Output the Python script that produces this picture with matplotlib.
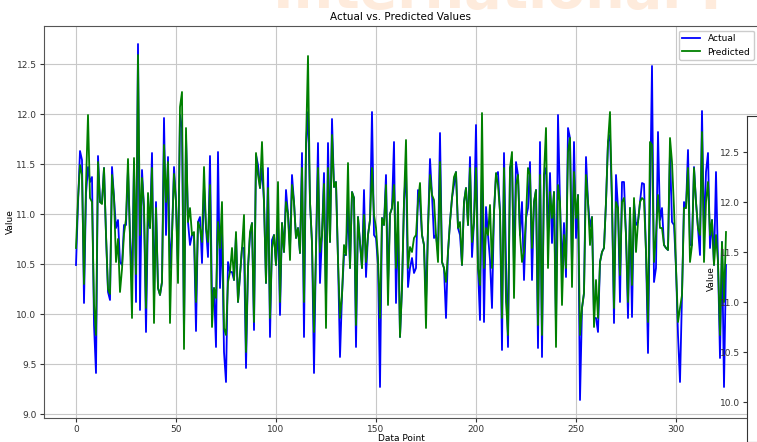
import numpy as np
import matplotlib.pyplot as plt

actual = [
    10.49, 11.10, 11.63, 11.54, 10.11, 11.20, 11.47, 11.32, 11.37, 9.89,
    9.41, 11.58, 11.12, 11.11, 11.46, 10.79, 10.22, 10.14, 11.47, 11.16,
    10.86, 10.94, 10.52, 10.49, 10.89, 10.89, 11.45, 10.79, 10.30, 11.52,
    10.12, 12.70, 10.04, 11.44, 11.06, 9.82, 10.99, 10.86, 11.61, 10.12,
    11.12, 10.26, 10.19, 10.32, 11.96, 10.79, 11.57, 10.46, 10.79, 11.47,
    11.12, 10.46, 11.99, 11.86, 9.79, 11.79, 10.92, 10.69, 10.79, 10.79,
    9.83, 10.92, 10.97, 10.51, 11.29, 10.86, 10.57, 11.58, 10.12, 10.26,
    9.67, 11.62, 10.26, 10.86, 9.62, 9.32, 10.52, 10.42, 10.42, 10.34,
    10.79, 10.12, 10.39, 10.66, 10.66, 9.46, 10.46, 10.79, 10.91, 9.84,
    11.59, 11.49, 11.26, 11.46, 11.12, 10.31, 11.46, 9.77, 10.74, 10.79,
    10.49, 10.92, 9.99, 10.91, 10.62, 11.24, 11.00, 10.66, 11.39, 11.12,
    10.76, 10.86, 10.61, 11.61, 9.77, 11.69, 12.02, 11.12, 10.71, 9.41,
    10.66, 11.71, 10.31, 10.79, 11.41, 10.12, 11.71, 10.72, 11.95, 11.27,
    11.32, 10.54, 9.57, 10.19, 10.59, 10.59, 11.06, 10.46, 11.22, 11.16,
    9.67, 10.97, 10.72, 10.46, 11.24, 10.37, 10.79, 10.94, 12.02, 10.79,
    10.76, 10.49, 9.27, 10.96, 10.89, 11.39, 10.29, 11.00, 11.06, 11.72,
    10.11, 10.92, 9.77, 10.26, 11.12, 11.46, 10.27, 10.46, 10.56, 10.41,
    10.46, 11.24, 11.12, 10.79, 10.69, 10.12, 10.86, 11.55, 11.19, 10.76,
    10.79, 10.62, 11.81, 10.52, 10.46, 9.96, 10.62, 10.92, 11.16, 11.29,
    11.42, 10.86, 10.79, 10.49, 11.12, 11.26, 10.89, 11.57, 10.57, 10.92,
    11.89, 10.46, 9.94, 11.46, 9.92, 11.07, 10.79, 10.54, 10.06, 11.02,
    11.39, 11.42, 11.02, 9.64, 11.61, 10.52, 9.67, 11.46, 11.52, 10.46,
    11.52, 11.39, 10.79, 11.12, 10.34, 10.96, 11.06, 11.52, 10.34, 11.12,
    11.24, 9.66, 11.72, 9.57, 11.39, 11.46, 10.79, 11.41, 10.71, 11.22,
    9.86, 11.99, 11.12, 10.46, 10.91, 10.37, 11.86, 11.76, 10.46, 11.72,
    10.76, 11.19, 9.14, 10.06, 10.21, 11.57, 11.12, 10.87, 10.97, 9.96,
    9.96, 9.82, 10.52, 10.62, 10.66, 11.12, 11.72, 11.79, 11.12, 9.91,
    11.39, 11.06, 10.12, 11.32, 11.32, 10.79, 9.96, 11.06, 9.97, 11.12,
    10.89, 10.92, 11.12, 11.31, 11.30, 10.62, 9.61, 11.12, 12.48, 10.32,
    10.46, 11.82, 10.94, 11.06, 10.69, 10.66, 10.64, 11.62, 10.92, 10.89,
    10.46, 9.79, 9.32, 10.19, 11.12, 11.06, 11.64, 10.69, 10.69, 11.47,
    11.12, 10.86, 10.59, 12.03, 10.79, 11.42, 11.61, 10.66, 10.94, 10.49,
    11.42, 10.52, 9.56, 10.72, 9.27, 10.49,
]

predicted = [
    10.66, 11.15, 11.49, 11.39, 10.30, 11.30, 11.99, 11.16, 11.12, 10.10,
    9.79, 11.52, 11.12, 11.10, 11.46, 10.80, 10.25, 10.20, 11.39, 11.16,
    10.52, 10.75, 10.22, 10.45, 10.80, 10.95, 11.55, 10.75, 9.96, 11.56,
    10.40, 12.59, 10.79, 11.36, 11.06, 10.06, 11.21, 10.86, 11.46, 9.91,
    11.06, 10.26, 10.19, 10.32, 11.69, 11.12, 11.52, 9.91, 10.79, 11.40,
    11.12, 10.31, 12.07, 12.22, 9.65, 11.86, 10.92, 11.06, 10.79, 10.82,
    10.12, 10.92, 10.86, 10.72, 11.47, 10.86, 10.72, 11.29, 9.87, 10.26,
    10.16, 10.92, 10.66, 11.12, 9.86, 9.79, 10.32, 10.42, 10.66, 10.34,
    10.82, 10.12, 10.39, 10.66, 10.99, 9.62, 10.46, 10.82, 10.91, 9.92,
    11.61, 11.39, 11.26, 11.72, 11.12, 10.31, 11.26, 9.96, 10.66, 10.79,
    10.49, 11.32, 10.12, 10.91, 10.62, 11.12, 11.00, 10.54, 11.29, 11.12,
    10.76, 10.86, 10.61, 11.46, 10.12, 11.69, 12.58, 11.12, 10.71, 9.82,
    10.66, 11.46, 10.62, 10.79, 11.30, 9.86, 11.46, 10.72, 11.79, 11.27,
    11.32, 10.54, 9.96, 10.19, 10.69, 10.59, 11.51, 10.46, 11.22, 11.16,
    9.89, 10.97, 10.72, 10.46, 10.99, 10.52, 10.79, 10.94, 11.46, 10.99,
    10.86, 10.56, 9.96, 10.96, 10.89, 11.29, 10.09, 11.00, 11.06, 11.29,
    10.46, 11.12, 9.77, 10.26, 11.12, 11.74, 10.46, 10.67, 10.62, 10.76,
    10.79, 11.12, 11.31, 10.79, 10.69, 9.86, 10.86, 11.39, 11.19, 11.14,
    10.79, 10.52, 11.52, 10.52, 10.46, 10.32, 10.62, 10.92, 11.16, 11.37,
    11.42, 10.86, 10.92, 10.49, 11.12, 11.26, 10.89, 11.46, 10.72, 10.92,
    11.46, 10.46, 10.29, 12.01, 10.46, 10.86, 10.79, 11.09, 10.46, 11.02,
    11.41, 11.29, 11.02, 9.96, 11.46, 10.12, 9.79, 11.46, 11.62, 10.16,
    11.29, 11.39, 10.79, 10.52, 10.62, 10.96, 11.46, 11.39, 10.66, 11.12,
    11.24, 9.89, 11.39, 9.79, 11.39, 11.86, 10.46, 11.22, 10.96, 11.22,
    9.67, 11.29, 11.12, 10.09, 10.79, 10.46, 11.62, 11.76, 10.27, 11.42,
    10.96, 11.19, 9.79, 10.06, 10.21, 11.39, 11.12, 10.69, 10.97, 9.87,
    10.34, 9.96, 10.52, 10.62, 10.66, 11.12, 11.72, 12.02, 11.12, 10.06,
    11.12, 11.06, 10.39, 11.12, 11.16, 10.79, 10.12, 11.06, 10.29, 11.16,
    10.62, 10.92, 11.12, 11.16, 11.14, 10.62, 9.92, 11.72, 11.69, 10.52,
    10.79, 11.19, 10.86, 10.86, 10.69, 10.66, 10.64, 11.76, 11.52, 11.06,
    10.46, 9.92, 10.06, 10.19, 11.06, 11.06, 11.46, 10.52, 10.69, 11.46,
    11.12, 10.86, 10.79, 11.82, 10.52, 11.12, 11.32, 10.79, 10.94, 10.49,
    10.79, 10.52, 9.79, 10.72, 10.12, 10.82,
]

inset_ticks = [10.0, 10.5, 11.0, 11.5, 12.0, 12.5]

fig = plt.figure(figsize=(7.57, 4.42), dpi=100)

# faded watermark behind the title
fig.text(0.36, 0.955, "International P", fontsize=40, fontweight="bold",
         color="#feebdc", ha="left", va="bottom", zorder=0)

ax = fig.add_axes([43.5 / 757, 24 / 442, 715 / 757, 392 / 442])
ax.plot(actual, color="blue", lw=1.3, label="Actual")
ax.plot(predicted, color="green", lw=1.3, label="Predicted")
ax.set_ylim(8.96, 12.88)
ax.set_xticks([0, 50, 100, 150, 200, 250, 300])
ax.set_yticks([9.0, 9.5, 10.0, 10.5, 11.0, 11.5, 12.0, 12.5])
ax.grid(True, color="#c8c8c8", lw=0.8)
ax.tick_params(labelsize=6.5, length=3, pad=2, colors="#333333")
ax.set_title("Actual vs. Predicted Values", fontsize=7.5, pad=4)
ax.set_xlabel("Data Point", fontsize=6.5, labelpad=0)
ax.set_ylabel("Value", fontsize=6.5, labelpad=1)
for s in ax.spines.values():
    s.set_color("#555555")
ax.legend(loc="upper right", fontsize=6.5, framealpha=1, edgecolor="#cccccc")

# piece of another figure overlapping the right edge
ax2 = fig.add_axes([747 / 757, 0, 0.05, 326 / 442])
ax2.set_facecolor("white")
ax2.set_ylim(9.6, 12.86)
ax2.set_yticks(inset_ticks)
ax2.set_xticks([])
ax2.tick_params(labelsize=6.5, length=3, pad=2, colors="#333333")
ax2.set_ylabel("Value", fontsize=6.5, labelpad=3)
for s in ax2.spines.values():
    s.set_color("#333333")

fig.savefig("out.png", dpi=100)
